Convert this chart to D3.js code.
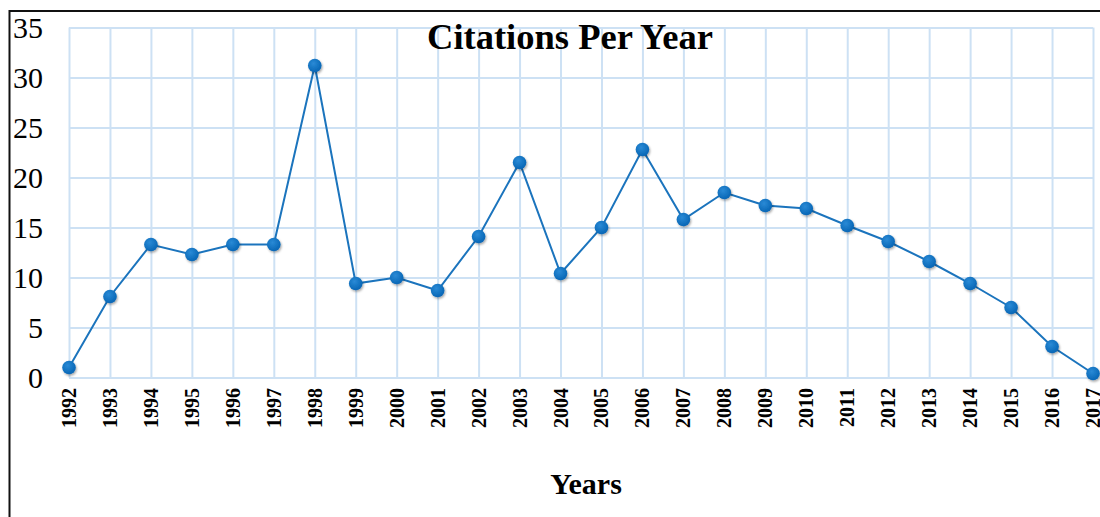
<!DOCTYPE html>
<html>
<head>
<meta charset="utf-8">
<script src="https://cdn.jsdelivr.net/npm/d3@7"></script>
<style>
  html, body { margin: 0; padding: 0; background: #fff; }
  svg { display: block; }
</style>
</head>
<body>
<script>
// Citations received per year
const years = [1992, 1993, 1994, 1995, 1996, 1997, 1998, 1999, 2000, 2001, 2002, 2003, 2004,
               2005, 2006, 2007, 2008, 2009, 2010, 2011, 2012, 2013, 2014, 2015, 2016, 2017];
const citations = [1.0, 8.1, 13.3, 12.3, 13.3, 13.3, 31.2, 9.4, 10.0, 8.7, 14.1, 21.5, 10.4,
                   15.0, 22.8, 15.8, 18.5, 17.2, 16.9, 15.2, 13.6, 11.6, 9.4, 7.0, 3.1, 0.4];
const yTicks = [0, 5, 10, 15, 20, 25, 30, 35];
const titleText = "Citations Per Year";
const xAxisTitle = "Years";

const W = 1100, H = 517;
const plot = { left: 69, right: 1093, top: 27.5, bottom: 377.5 };

const svg = d3.select("body").append("svg")
  .attr("width", W).attr("height", H);

const x = d3.scalePoint().domain(years).range([plot.left, plot.right]);
const y = d3.scaleLinear().domain([0, 35]).range([plot.bottom, plot.top]);

// soft drop shadow under the markers
const defs = svg.append("defs");
const f = defs.append("filter").attr("id", "shadow")
  .attr("x", "-50%").attr("y", "-50%").attr("width", "200%").attr("height", "200%");
f.append("feDropShadow").attr("dx", 1).attr("dy", 1.5).attr("stdDeviation", 1.3)
  .attr("flood-color", "#000").attr("flood-opacity", 0.35);
const grad = defs.append("radialGradient").attr("id", "dot")
  .attr("cx", "40%").attr("cy", "35%").attr("r", "65%");
grad.append("stop").attr("offset", "0%").attr("stop-color", "#2a8ad6");
grad.append("stop").attr("offset", "100%").attr("stop-color", "#0766b5");

// outer frame (top and left edges)
svg.append("path")
  .attr("d", `M9.5,517 V11 H1100`)
  .attr("fill", "none").attr("stroke", "#111").attr("stroke-width", 2);

// grid
const gridColor = "#cde1f4";
const gx = svg.append("g")
  .attr("transform", `translate(0,${plot.bottom})`)
  .call(d3.axisBottom(x).tickSize(-(plot.bottom - plot.top)).tickFormat(""));
gx.select(".domain").remove();
gx.selectAll(".tick line").attr("stroke", gridColor).attr("stroke-width", 2);

const gy = svg.append("g")
  .attr("transform", `translate(${plot.left},0)`)
  .call(d3.axisLeft(y).tickValues(yTicks).tickSize(-(plot.right - plot.left)).tickFormat(""));
gy.select(".domain").remove();
gy.selectAll(".tick line").attr("stroke", gridColor).attr("stroke-width", 2);

// y tick labels
svg.append("g").selectAll("text").data(yTicks).join("text")
  .attr("x", 43).attr("y", d => y(d)).attr("dy", "0.35em")
  .attr("text-anchor", "end")
  .attr("font-family", "'Liberation Serif', 'Times New Roman', serif")
  .attr("font-size", 30).attr("fill", "#000")
  .text(d => d);

// x tick labels, rotated
svg.append("g").selectAll("text").data(years).join("text")
  .attr("transform", d => `translate(${x(d)},388) rotate(-90)`)
  .attr("dy", "0.35em")
  .attr("text-anchor", "end")
  .attr("font-family", "'Liberation Serif', 'Times New Roman', serif")
  .attr("font-weight", "bold")
  .attr("font-size", 20).attr("fill", "#000")
  .text(d => d);

// title
svg.append("text")
  .attr("x", 570).attr("y", 49)
  .attr("text-anchor", "middle")
  .attr("font-family", "'Liberation Serif', 'Times New Roman', serif")
  .attr("font-weight", "bold").attr("font-size", 36.5).attr("fill", "#000")
  .text(titleText);

// axis title
svg.append("text")
  .attr("x", 586).attr("y", 494)
  .attr("text-anchor", "middle")
  .attr("font-family", "'Liberation Serif', 'Times New Roman', serif")
  .attr("font-weight", "bold").attr("font-size", 30).attr("fill", "#000")
  .text(xAxisTitle);

// line
const data = years.map((yr, i) => ({ year: yr, value: citations[i] }));
svg.append("path")
  .datum(data)
  .attr("fill", "none")
  .attr("stroke", "#1b74bd")
  .attr("stroke-width", 2)
  .attr("d", d3.line().x(d => x(d.year)).y(d => y(d.value)));

// markers
svg.append("g").selectAll("circle").data(data).join("circle")
  .attr("cx", d => x(d.year)).attr("cy", d => y(d.value))
  .attr("r", 6.8)
  .attr("fill", "url(#dot)")
  .attr("filter", "url(#shadow)");
</script>
</body>
</html>
